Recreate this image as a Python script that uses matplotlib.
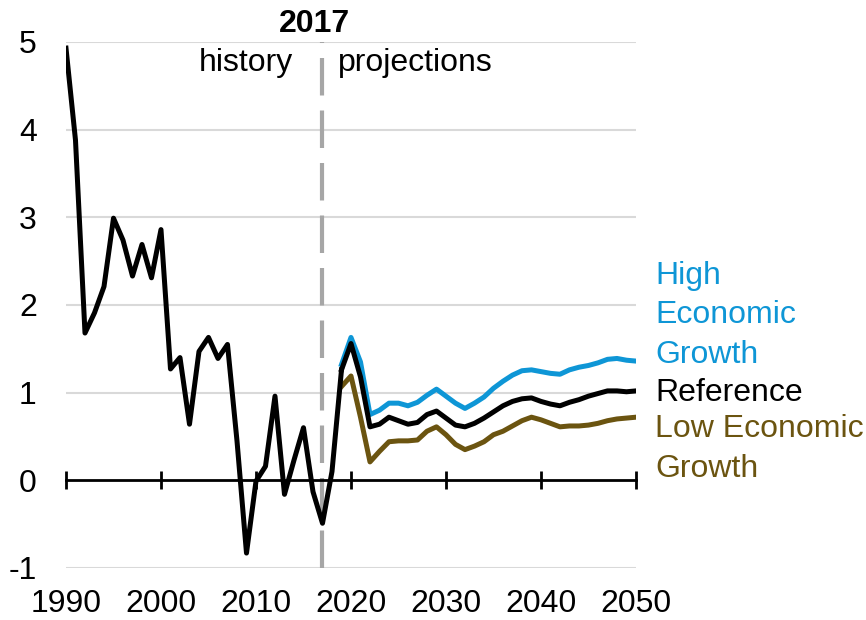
import matplotlib.pyplot as plt

plt.rcParams['font.family'] = ['Liberation Sans', 'DejaVu Sans']

# history (1990-2019) and projection values
hist_years = list(range(1990, 2020))
hist_vals = [4.93, 3.88, 1.68, 1.91, 2.21, 2.99, 2.74, 2.33, 2.69, 2.31,
             2.86, 1.27, 1.40, 0.64, 1.47, 1.63, 1.39, 1.55, 0.45, -0.83,
             -0.01, 0.16, 0.96, -0.16, 0.23, 0.60, -0.13, -0.49, 0.10, 1.26]

proj_years = list(range(2019, 2051))
reference = [1.26, 1.56, 1.18, 0.61, 0.64, 0.72, 0.68, 0.64, 0.66, 0.75,
             0.79, 0.71, 0.63, 0.61, 0.65, 0.71, 0.78, 0.85, 0.90, 0.93,
             0.94, 0.90, 0.87, 0.85, 0.89, 0.92, 0.96, 0.99, 1.02, 1.02,
             1.01, 1.02]
high_growth = [1.32, 1.63, 1.35, 0.75, 0.80, 0.88, 0.88, 0.85, 0.89, 0.97,
               1.04, 0.96, 0.88, 0.82, 0.88, 0.95, 1.05, 1.13, 1.20, 1.25,
               1.26, 1.24, 1.22, 1.21, 1.26, 1.29, 1.31, 1.34, 1.38, 1.39,
               1.37, 1.36]
low_growth = [1.07, 1.19, 0.72, 0.21, 0.33, 0.44, 0.45, 0.45, 0.46, 0.56,
              0.61, 0.52, 0.41, 0.35, 0.39, 0.44, 0.52, 0.56, 0.62, 0.68,
              0.72, 0.69, 0.65, 0.61, 0.62, 0.62, 0.63, 0.65, 0.68, 0.70,
              0.71, 0.72]

x_ticks = [1990, 2000, 2010, 2020, 2030, 2040, 2050]
y_ticks = [-1, 0, 1, 2, 3, 4, 5]

blue = '#0E96D6'
brown = '#6B5410'
fs = 23
lw = 3.6

fig = plt.figure(figsize=(8.66, 6.2), dpi=100)
ax = fig.add_axes([0.0762, 0.0839, 0.6582, 0.8484])

ax.set_xlim(1990, 2050)
ax.set_ylim(-1, 5)

# gridlines
for v in y_ticks:
    if v != 0:
        ax.axhline(v, color='#D9D9D9', lw=1.5, zorder=0)

# divider between history and projections
ax.axvline(2017, color='#A6A6A6', lw=3, dashes=(9, 3.6), zorder=1)

ax.plot(proj_years, high_growth, color=blue, lw=lw, zorder=3)
ax.plot(proj_years, low_growth, color=brown, lw=lw, zorder=3)
ax.plot(proj_years, reference, color='black', lw=lw, zorder=4)
ax.plot(hist_years, hist_vals, color='black', lw=lw, zorder=4)

# axis line at zero with crossing ticks
for s in ['top', 'right', 'left']:
    ax.spines[s].set_visible(False)
ax.spines['bottom'].set_position(('data', 0))
ax.spines['bottom'].set_linewidth(2)
ax.spines['bottom'].set_zorder(2)
ax.set_xticks(x_ticks)
ax.tick_params(axis='x', direction='inout', length=13, width=2, labelbottom=False)

sec = ax.secondary_xaxis('bottom')
sec.set_xticks(x_ticks)
sec.spines['bottom'].set_visible(False)
sec.tick_params(length=0, labelsize=fs, pad=15)

ax.set_yticks(y_ticks)
ax.set_yticklabels([str(v) for v in y_ticks])
ax.tick_params(axis='y', length=0, labelsize=fs, pad=21)

# annotations
ax.text(2016.1, 5.11, '2017', ha='center', va='baseline', fontsize=fs, fontweight='bold')
ax.text(2013.9, 4.76, 'history', ha='right', va='center', fontsize=fs)
ax.text(2018.6, 4.76, 'projections', ha='left', va='center', fontsize=fs)

ax.text(2052, 1.88, 'High\nEconomic\nGrowth', color=blue, fontsize=fs,
        va='center', ha='left', linespacing=1.42, clip_on=False)
ax.text(2052, 1.00, 'Reference', color='black', fontsize=fs,
        va='center', ha='left', clip_on=False)
ax.text(2052, 0.36, 'Low Economic\nGrowth', color=brown, fontsize=fs,
        va='center', ha='left', linespacing=1.42, clip_on=False)

fig.savefig('out.png', dpi=100)
